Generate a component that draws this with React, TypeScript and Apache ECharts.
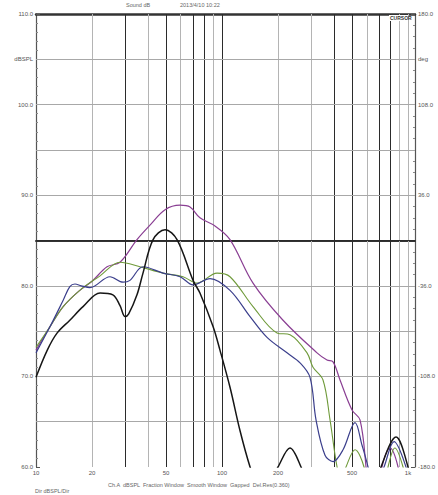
import React, { useEffect, useRef } from "react";
import * as echarts from "echarts";

// Frequency axis (Hz, log)
const freqTicks = [10, 20, 50, 100, 200, 500, 1000];
const freqTickLabels = ["10", "20", "50", "100", "200", "500", "1k"];
const gridFreqs = [20, 30, 40, 50, 60, 70, 80, 90, 100, 200, 300, 400, 500, 600, 700, 800, 900, 1000];
const darkFreqs = [30, 50, 70, 80, 100, 400, 500, 700, 800];

// Level axis (dBSPL)
const splTicks = [110, 105, 100, 90, 80, 70, 60];
const splTickLabels = ["110.0", "dBSPL", "100.0", "90.0", "80.0", "70.0", "60.0"];
const darkLevels = [85];

// Phase axis (deg)
const phaseTicks = [180, 144, 108, 36, -36, -108, -180];
const phaseTickLabels = ["180.0", "deg", "108.0", "36.0", "-36.0", "-108.0", "-180.0"];

// Curves: [frequency Hz, level dB]
const purpleCurve = [
  [10, 72.9], [11.9, 75.5], [14.0, 77.7], [17.2, 79.5], [20, 80.5], [24.1, 82.1], [28.3, 82.6],
  [34.9, 85.1], [41.0, 86.7], [49.4, 88.4], [59.5, 88.9], [67.3, 88.7], [76.1, 87.5], [91.7, 86.6],
  [110.4, 85.1], [146.8, 80.3], [212.8, 76.2], [324.2, 72.6], [366.8, 71.8], [395.3, 71.6],
  [430.9, 69.6], [500, 66.3], [552, 65.2], [594.6, 60], [620, 55], [700, 55.5], [725, 60],
  [800, 62.1], [884, 60], [950, 56],
];
const greenCurve = [
  [10, 73.2], [11.9, 75.5], [14.0, 77.7], [17.2, 79.5], [22.1, 81.1], [28.3, 82.6], [36.2, 82.1],
  [48.2, 81.4], [61.7, 81.0], [73.4, 80.3], [94.0, 81.4], [110.4, 81.0], [146.8, 77.7],
  [197.6, 74.8], [232.1, 74.6], [286.4, 72.6], [308.5, 71.0], [349.1, 69.6], [380.8, 65.2],
  [415.5, 60], [440, 58.5], [464, 60], [518.8, 61.9], [580, 60], [620, 56], [740, 57],
  [781, 60], [850, 62.1], [940, 60], [1000, 57],
];
const blueCurve = [
  [10, 72.6], [11.9, 75.5], [14.0, 78.4], [15.2, 79.9], [16.2, 80.2], [17.5, 80.0], [19.5, 79.8],
  [25.0, 81.0], [29.4, 80.4], [32.0, 80.6], [37.6, 82.1], [48.2, 81.4], [59.5, 81.0], [69.9, 80.1],
  [86.2, 80.8], [110.4, 79.5], [141.5, 76.6], [174.6, 74.3], [223.6, 72.6], [262.7, 71.5],
  [297.2, 69.9], [320.2, 65.2], [357.9, 61.3], [395.3, 60.6], [447.3, 61.9], [518.8, 64.9],
  [565.9, 62.4], [609.5, 60], [650, 57], [743, 60], [841, 62.8], [975, 60], [1050, 57],
];
const blackCurve = [
  [10, 69.9], [11.5, 72.9], [13.0, 74.8], [15.2, 76.2], [17.9, 77.7], [22.1, 79.2], [25.9, 79.0],
  [28.3, 77.8], [30.1, 76.6], [31.5, 76.9], [34.9, 79.0], [37.6, 81.4], [42.6, 85.1], [49.4, 86.2],
  [57.3, 85.1], [69.9, 80.6], [76.1, 79.2], [89.5, 75.5], [97.5, 72.9], [110.4, 68.8], [125, 64],
  [141.5, 60], [160, 57], [180, 58.3], [200, 60], [232, 62.1], [266, 60], [300, 57], [400, 55],
  [600, 55], [716, 60], [862, 63.3], [1000, 60], [1060, 57],
];

export default function App() {
  const ref = useRef<HTMLDivElement>(null);

  useEffect(() => {
    const chart = echarts.init(ref.current!, null, { renderer: "svg" });
    const font = "Liberation Sans, Arial, sans-serif";

    const vLines = gridFreqs.map((f) => ({
      xAxis: f,
      lineStyle: {
        color: darkFreqs.includes(f) ? "#2b2b2b" : "#b4b4b4",
        width: 1,
        type: "solid",
      },
    }));
    const hLines: any[] = [];
    for (let v = 65; v <= 105; v += 5) {
      hLines.push({
        yAxis: v,
        lineStyle: {
          color: darkLevels.includes(v) ? "#2b2b2b" : "#a8a8a8",
          width: 1,
          type: "solid",
        },
      });
    }

    const curve = (name: string, data: number[][], color: string, width: number) => ({
      name,
      type: "line",
      data,
      smooth: 0.35,
      showSymbol: false,
      clip: true,
      z: 5,
      lineStyle: { color, width },
      silent: true,
    });

    const option: any = {
      animation: false,
      backgroundColor: "#ffffff",
      grid: { left: 36, right: 23, top: 14, bottom: 28, show: false },
      xAxis: [
        {
          type: "log",
          logBase: 10,
          min: 10,
          max: 1090,
          axisLine: { show: true, lineStyle: { color: "#333", width: 2 } },
          axisTick: { show: false },
          axisLabel: { show: false },
          splitLine: { show: false },
        },
        {
          type: "log",
          logBase: 10,
          min: 10,
          max: 1090,
          position: "top",
          axisLine: { show: true, lineStyle: { color: "#333", width: 2.5 } },
          axisTick: { show: false },
          axisLabel: { show: false },
          splitLine: { show: false },
        },
      ],
      yAxis: [
        {
          type: "value",
          min: 60,
          max: 110,
          interval: 5,
          axisLine: { show: true, lineStyle: { color: "#555", width: 1.2 } },
          axisTick: { show: true, inside: true, length: 4, lineStyle: { color: "#555" } },
          minorTick: { show: true, splitNumber: 5, length: 2, lineStyle: { color: "#888" } },
          axisLabel: {
            fontSize: 6,
            color: "#555",
            fontFamily: font,
            margin: 3,
            formatter: (v: number) => {
              const i = splTicks.indexOf(v);
              return i >= 0 ? splTickLabels[i] : "";
            },
          },
          splitLine: { show: false },
        },
        {
          type: "value",
          min: -180,
          max: 180,
          interval: 36,
          position: "right",
          axisLine: { show: true, lineStyle: { color: "#555", width: 1.2 } },
          axisTick: { show: true, inside: true, length: 4, lineStyle: { color: "#555" } },
          minorTick: { show: true, splitNumber: 4, length: 2, lineStyle: { color: "#888" } },
          axisLabel: {
            fontSize: 6,
            color: "#555",
            fontFamily: font,
            margin: 3,
            formatter: (v: number) => {
              const i = phaseTicks.indexOf(Math.round(v));
              return i >= 0 ? phaseTickLabels[i] : "";
            },
          },
          splitLine: { show: false },
        },
      ],
      series: [
        {
          name: "grid",
          type: "line",
          data: [[10, 40]],
          showSymbol: false,
          clip: true,
          z: 1,
          silent: true,
          lineStyle: { width: 0 },
          markLine: {
            silent: true,
            symbol: ["none", "none"],
            label: { show: false },
            animation: false,
            data: [...vLines, ...hLines],
          },
        },
        curve("Purple", purpleCurve, "#8a3f93", 1.2),
        curve("Green", greenCurve, "#6f9a3a", 1.1),
        curve("Blue", blueCurve, "#3b3f8c", 1.2),
        curve("Black", blackCurve, "#161616", 1.5),
      ],
    };

    chart.setOption(option);

    const xLabels = freqTicks.map((f, i) => {
      const px = chart.convertToPixel({ xAxisIndex: 0 }, f) as number;
      return {
        type: "text",
        x: px,
        y: 470,
        style: {
          text: freqTickLabels[i],
          fontSize: 6,
          fill: "#555",
          fontFamily: font,
          align: "center",
          verticalAlign: "top",
        },
      };
    });

    const texts = [
      { x: 126, y: 2, text: "Sound dB" },
      { x: 180, y: 2, text: "2013/4/10 10:22" },
      { x: 108, y: 482, text: "Ch.A  dBSPL  Fraction Window  Smooth Window  Gapped  Del.Res(0.360)" },
      { x: 35, y: 488, text: "Dir dBSPL/Dir" },
    ].map((t) => ({
      type: "text",
      x: t.x,
      y: t.y,
      style: { text: t.text, fontSize: 5.5, fill: "#666", fontFamily: font },
    }));

    chart.setOption({
      graphic: [
        ...xLabels,
        ...texts,
        {
          type: "rect",
          shape: { x: 389, y: 15, width: 19, height: 6 },
          style: { fill: "#fff", stroke: "none" },
          z: 20,
        },
        {
          type: "text",
          x: 390,
          y: 15.5,
          z: 21,
          style: { text: "CURSOR", fontSize: 5, fill: "#333", fontFamily: font, fontWeight: "bold" },
        },
      ],
    });

    return () => chart.dispose();
  }, []);

  return (
    <div
      ref={ref}
      style={{ position: "fixed", left: 0, top: 0, width: 438, height: 495, background: "#fff" }}
    />
  );
}
